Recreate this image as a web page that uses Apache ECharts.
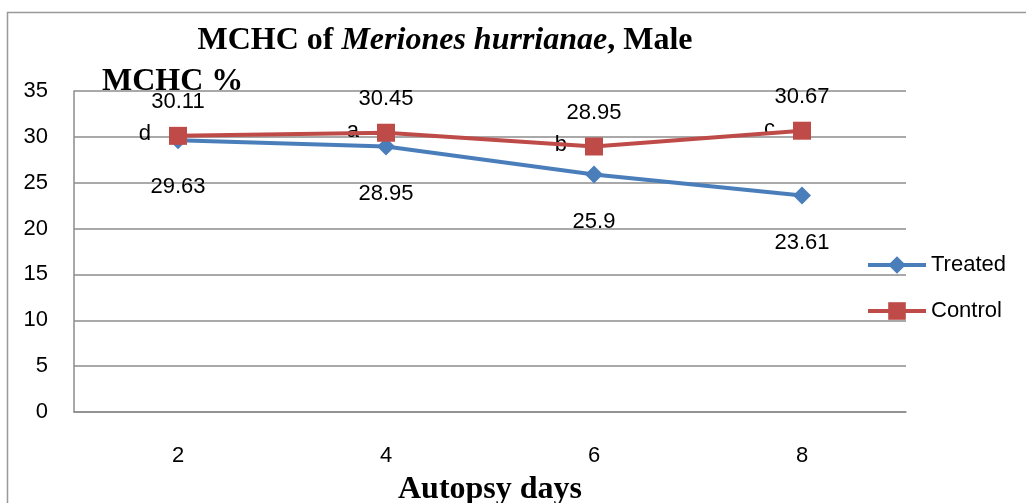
<!DOCTYPE html>
<html>
<head>
<meta charset="utf-8">
<script src="https://cdn.jsdelivr.net/npm/echarts@6/dist/echarts.min.js"></script>
<style>
html,body{margin:0;padding:0;background:#fff;overflow:hidden;}
#c{width:1026px;height:503px;}
</style>
</head>
<body>
<div id="c"></div>
<script>
const categories = ['2', '4', '6', '8'];
const treated = [29.63, 28.95, 25.9, 23.61];
const control = [30.11, 30.45, 28.95, 30.67];
const letters = ['d', 'a', 'b', 'c'];
const yTicks = {min: 0, max: 35, interval: 5};

const chart = echarts.init(document.getElementById('c'), null, {renderer: 'canvas', width: 1026, height: 503});
const sans = 'Liberation Sans, Arial, sans-serif';
const serif = 'Liberation Serif, Times New Roman, serif';
const grey = '#8c8c8c';

chart.setOption({
  animation: false,
  backgroundColor: '#fff',
  title: {
    text: '{b|MCHC of }{i|Meriones hurrianae}{b|, Male}',
    left: 440, top: 20, textAlign: 'center',
    textStyle: {
      rich: {
        b: {fontFamily: serif, fontWeight: 'bold', fontSize: 32, color: '#000'},
        i: {fontFamily: serif, fontWeight: 'bold', fontStyle: 'italic', fontSize: 32, color: '#000'}
      }
    }
  },
  graphic: [
    {type: 'rect', shape: {x: 7.5, y: 12.5, width: 1040, height: 520}, style: {fill: 'none', stroke: '#999', lineWidth: 1.5}, silent: true},
    {type: 'text', left: 102, top: 66, style: {text: 'MCHC %', fontFamily: serif, fontWeight: 'bold', fontSize: 32, fill: '#000'}, z: 10}
  ],
  legend: {
    data: ['Treated', 'Control'],
    orient: 'vertical',
    left: 866, top: 254,
    padding: 0,
    itemWidth: 58, itemHeight: 22,
    itemGap: 24,
    lineStyle: {width: 4},
    textStyle: {fontFamily: sans, fontSize: 22, color: '#000'}
  },
  grid: {left: 74, width: 832, top: 91, height: 321, containLabel: false, outerBoundsMode: 'none'},
  xAxis: {
    type: 'category',
    data: categories,
    boundaryGap: true,
    axisLine: {show: true, lineStyle: {color: grey, width: 1.5}},
    axisTick: {show: false},
    axisLabel: {fontFamily: sans, fontSize: 22, color: '#000', margin: 33},
    name: 'Autopsy days',
    nameLocation: 'middle',
    nameGap: 62,
    nameTextStyle: {fontFamily: serif, fontWeight: 'bold', fontSize: 32, color: '#000'}
  },
  yAxis: {
    type: 'value',
    min: yTicks.min, max: yTicks.max, interval: yTicks.interval,
    axisLine: {show: true, lineStyle: {color: grey, width: 1.5}},
    axisTick: {show: false},
    splitLine: {show: true, lineStyle: {color: grey, width: 1.5}},
    axisLabel: {fontFamily: sans, fontSize: 22, color: '#000', margin: 26}
  },
  series: [
    {
      name: 'Letters',
      type: 'line',
      data: control,
      symbol: 'circle', symbolSize: 2,
      itemStyle: {color: 'rgba(0,0,0,0)'},
      lineStyle: {width: 0, color: 'rgba(0,0,0,0)'},
      z: 1,
      label: {
        show: true, position: 'left', distance: 26, offset: [0, -2],
        fontFamily: sans, fontSize: 22, color: '#000',
        formatter: p => letters[p.dataIndex]
      }
    },
    {
      name: 'Treated',
      type: 'line',
      data: treated,
      symbol: 'diamond', symbolSize: 18,
      color: '#4A7EBB',
      lineStyle: {width: 4, color: '#4A7EBB'},
      itemStyle: {color: '#4A7EBB'},
      z: 3,
      label: {show: true, position: 'bottom', distance: 27, fontFamily: sans, fontSize: 22, color: '#000'}
    },
    {
      name: 'Control',
      type: 'line',
      data: control,
      symbol: 'rect', symbolSize: 18,
      color: '#BE4B48',
      lineStyle: {width: 4, color: '#BE4B48'},
      itemStyle: {color: '#BE4B48'},
      z: 4,
      label: {show: true, position: 'top', distance: 14, fontFamily: sans, fontSize: 22, color: '#000'}
    }
  ]
});
</script>
</body>
</html>
